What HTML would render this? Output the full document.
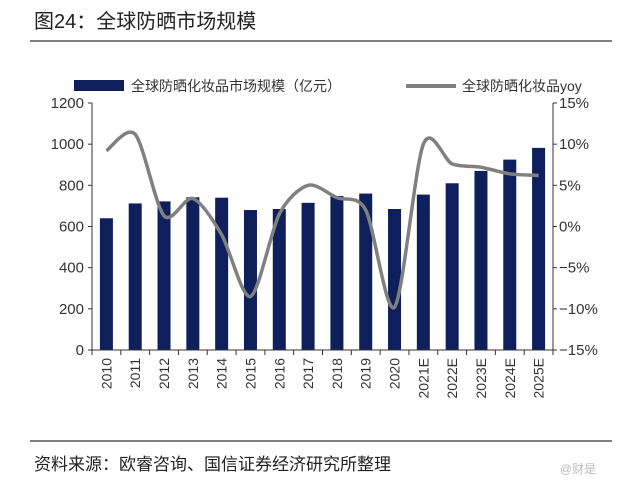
<!DOCTYPE html>
<html><head><meta charset="utf-8"><style>
body{margin:0;background:#fff;width:640px;height:494px;overflow:hidden;font-family:"Liberation Sans","Noto Sans CJK SC",sans-serif}
</style></head><body>
<svg width="640" height="494" font-family="Liberation Sans, Noto Sans CJK SC, sans-serif">
<text x="34" y="28" font-size="20" fill="#222">图24：全球防晒市场规模</text>
<line x1="30" y1="41" x2="612" y2="41" stroke="#333" stroke-width="1.2"/>
<rect x="74" y="80" width="50" height="11" fill="#0e1f5b"/>
<text x="131" y="91" font-size="14" fill="#333">全球防晒化妆品市场规模（亿元）</text>
<line x1="406" y1="86" x2="456" y2="86" stroke="#808080" stroke-width="4"/>
<text x="462" y="91" font-size="14" fill="#333">全球防晒化妆品yoy</text>
<g id="plot"></g>
<line x1="30" y1="441" x2="612" y2="441" stroke="#333" stroke-width="1.2"/>
<text x="34" y="470" font-size="17" fill="#222">资料来源：欧睿咨询、国信证券经济研究所整理</text>
<text x="560" y="473" font-size="12" fill="#bbb">@财是</text>
</svg>
<script>
const categories=["2010","2011","2012","2013","2014","2015","2016","2017","2018","2019","2020","2021E","2022E","2023E","2024E","2025E"];
const marketSize=[640,712,722,742,740,680,685,715,748,760,685,755,810,870,925,982];
const yoy=[9.2,11.2,1.3,3.4,-1,-8.5,1.5,5,3.5,2,-9.8,10,7.6,7.2,6.4,6.2];
const leftTicks=[0,200,400,600,800,1000,1200];
const rightTicks=[-15,-10,-5,0,5,10,15];
const NS="http://www.w3.org/2000/svg",g=document.getElementById('plot');
const X0=92,X1=553,Y0=350,Y1=103,bw=(X1-X0)/categories.length;
const yL=v=>Y0-(v/1200)*(Y0-Y1), yR=v=>Y0-((v+15)/30)*(Y0-Y1), xc=i=>X0+bw*(i+0.5);
function mk(t,a){const e=document.createElementNS(NS,t);for(const k in a)e.setAttribute(k,a[k]);g.appendChild(e);return e;}
marketSize.forEach((v,i)=>{const r=mk('rect',{x:xc(i)-6.5,y:yL(v),width:13,height:Y0-yL(v),fill:'#0e1f5b'});

});
let a=mk('line',{x1:X0,y1:Y1,x2:X0,y2:Y0,stroke:'#333'});
a=mk('line',{x1:X1,y1:Y1,x2:X1,y2:Y0,stroke:'#333'});
a=mk('line',{x1:X0,y1:Y0,x2:X1,y2:Y0,stroke:'#333'});
leftTicks.forEach(v=>{mk('line',{x1:X0-4,x2:X0,y1:yL(v),y2:yL(v),stroke:'#333'});
const t=mk('text',{x:X0-8,y:yL(v)+5,'font-size':15,'text-anchor':'end',fill:'#333'});t.textContent=v;
});
rightTicks.forEach(v=>{mk('line',{x1:X1,x2:X1+4,y1:yR(v),y2:yR(v),stroke:'#333'});
const t=mk('text',{x:X1+6,y:yR(v)+5,'font-size':15,fill:'#333'});t.textContent=(v<0?'−':'')+Math.abs(v)+'%';
});
for(let i=0;i<=categories.length;i++)mk('line',{x1:X0+bw*i,x2:X0+bw*i,y1:Y0,y2:Y0+5,stroke:'#333'});
categories.forEach((c,i)=>{const t=mk('text',{x:0,y:0,'font-size':14,'text-anchor':'end',fill:'#333',transform:`translate(${xc(i)+5},${Y0+8}) rotate(-90)`});t.textContent=c;
});
const P=yoy.map((v,i)=>[xc(i),yR(v)]);let d='M'+P[0];
for(let i=0;i<P.length-1;i++){const p0=P[i-1]||P[i],p1=P[i],p2=P[i+1],p3=P[i+2]||p2;
d+=` C${p1[0]+(p2[0]-p0[0])/7},${p1[1]+(p2[1]-p0[1])/7} ${p2[0]-(p3[0]-p1[0])/7},${p2[1]-(p3[1]-p1[1])/7} ${p2[0]},${p2[1]}`;}
const ln=mk('path',{d:d,fill:'none',stroke:'#808080','stroke-width':3.5});

</script>
</body></html>
